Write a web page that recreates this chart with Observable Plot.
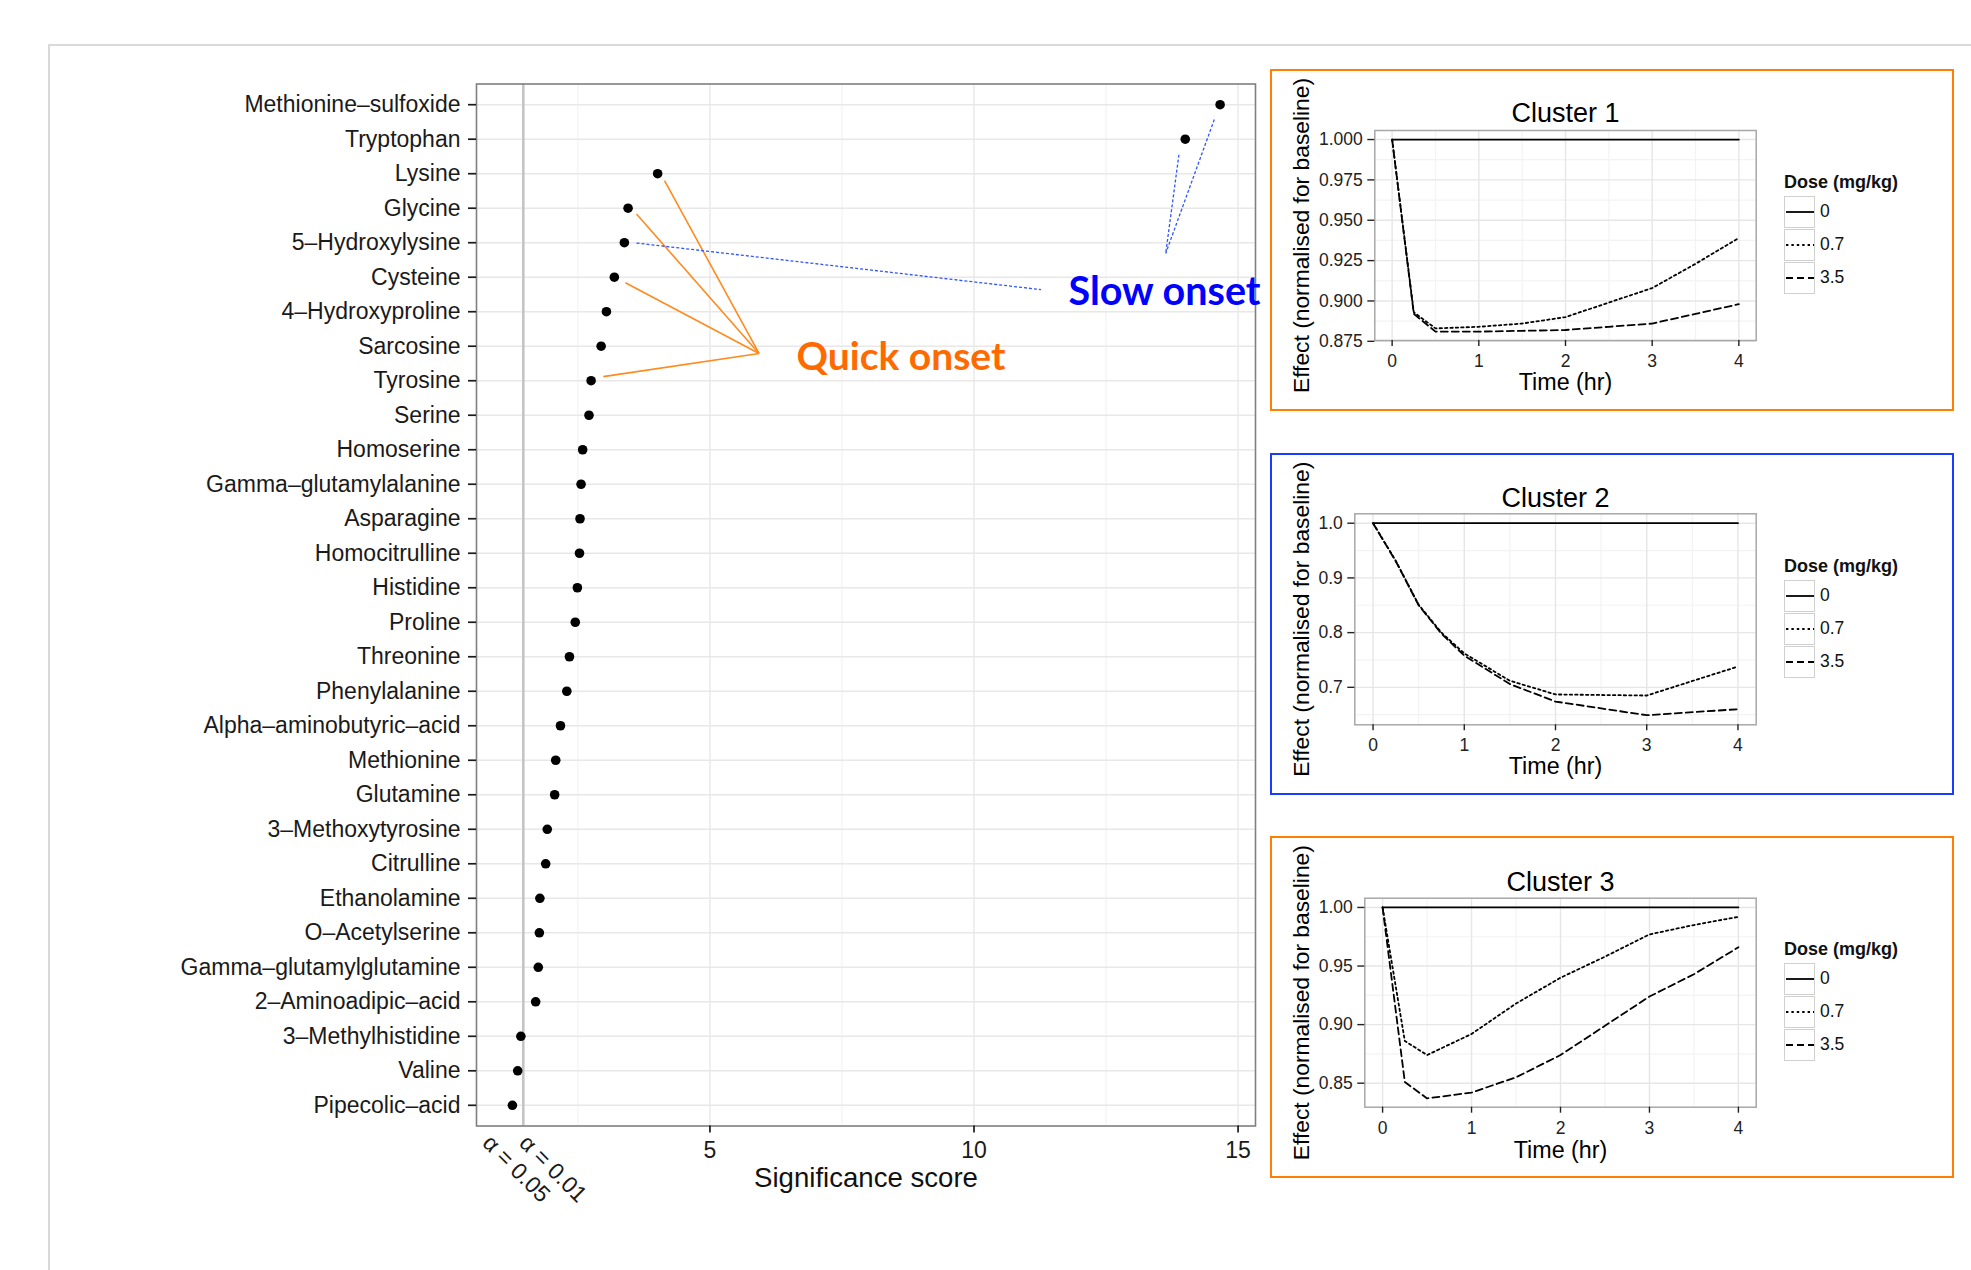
<!DOCTYPE html>
<html><head><meta charset="utf-8">
<script src="https://cdn.jsdelivr.net/npm/d3@7"></script>
<script src="https://cdn.jsdelivr.net/npm/@observablehq/plot@0.6"></script>
<style>
html,body{margin:0;padding:0;background:#fff;}
body{width:1971px;height:1270px;overflow:hidden;position:relative;font-family:"Liberation Sans",Arial,sans-serif;}
.pageframe{position:absolute;left:48px;top:44px;right:-4px;bottom:-4px;border-top:2px solid #d9d9d9;border-left:2px solid #d9d9d9;}
.abs{position:absolute;}
.box{position:absolute;left:1270px;width:684px;height:342px;box-sizing:border-box;border:2.5px solid #ff8000;pointer-events:none;}
.legend{position:absolute;left:514px;top:101px;font-family:"Liberation Sans",Arial,sans-serif;color:#111;}
.legend .lt{font-weight:bold;font-size:18px;height:25px;line-height:25px;white-space:nowrap;}
.legend .row{display:flex;align-items:center;height:33px;}
.legend .key{width:31px;height:32px;box-sizing:border-box;border:1.2px solid #d0d0d0;background:#fff;display:flex;align-items:center;justify-content:center;}
.legend .lab{font-size:17.5px;margin-left:5px;}
</style></head>
<body>
<div class="pageframe"></div>
<div id="main" class="abs" style="left:0;top:0"></div>
<div id="c1" class="abs" style="left:1270px;top:69px"></div>
<div id="c2" class="abs" style="left:1270px;top:453px"></div>
<div id="c3" class="abs" style="left:1270px;top:836px"></div>
<div class="box" style="top:69px"></div>
<div class="box" style="top:453px;border-color:#1a3cff"></div>
<div class="box" style="top:836px"></div>
<script>
// ---------- Main dot chart data ----------
const metabolites = ["Methionine–sulfoxide","Tryptophan","Lysine","Glycine","5–Hydroxylysine","Cysteine","4–Hydroxyproline","Sarcosine","Tyrosine","Serine","Homoserine","Gamma–glutamylalanine","Asparagine","Homocitrulline","Histidine","Proline","Threonine","Phenylalanine","Alpha–aminobutyric–acid","Methionine","Glutamine","3–Methoxytyrosine","Citrulline","Ethanolamine","O–Acetylserine","Gamma–glutamylglutamine","2–Aminoadipic–acid","3–Methylhistidine","Valine","Pipecolic–acid"];
const scores = [14.66,14.00,4.01,3.45,3.38,3.19,3.04,2.94,2.75,2.71,2.59,2.56,2.54,2.53,2.49,2.45,2.34,2.29,2.17,2.08,2.06,1.92,1.89,1.78,1.77,1.75,1.70,1.42,1.36,1.26];
const xMajorTicks = [5, 10, 15];
const xMinorTicks = [2.5, 7.5, 12.5];
const alphaTicks = [0.767, 1.466];
const alphaLabels = ["α = 0.05", "α = 0.01"];
// annotation callouts (data coordinates: score, row index)
const quickFromX = [4.14, 3.61, 3.40, 2.98];
const quickFromY = [2.20, 3.17, 5.16, 7.88];
const quickToX = 5.93, quickToY = 7.21;
const slowFromX = [3.61, 13.88, 14.55];
const slowFromY = [4.01, 1.45, 0.43];
const slowToX = [11.27, 13.63, 13.63];
const slowToY = [5.36, 4.31, 4.31];
const annotations = ["Quick onset", "Slow onset"];
const annotX = [6.64, 11.79];
const annotY = [7.33, 5.44];

// ---------- Cluster panels data ----------
const doses = ["0", "0.7", "3.5"];
const c1Time = [0, 0.25, 0.5, 1, 1.5, 2, 2.5, 3, 3.5, 4];
const c1Dose0 = [1, 1, 1, 1, 1, 1, 1, 1, 1, 1];
const c1Dose07 = [1.0, 0.893, 0.883, 0.884, 0.886, 0.890, 0.899, 0.908, 0.923, 0.939];
const c1Dose35 = [1.0, 0.892, 0.881, 0.881, 0.8815, 0.882, 0.884, 0.886, 0.892, 0.898];
const c2Time = [0, 0.25, 0.5, 0.75, 1, 1.5, 2, 3, 4];
const c2Dose0 = [1, 1, 1, 1, 1, 1, 1, 1, 1];
const c2Dose07 = [1.0, 0.931, 0.851, 0.800, 0.762, 0.712, 0.687, 0.685, 0.738];
const c2Dose35 = [1.0, 0.930, 0.850, 0.798, 0.758, 0.706, 0.674, 0.649, 0.660];
const c3Time = [0, 0.25, 0.5, 1, 1.5, 2, 2.5, 3, 3.5, 4];
const c3Dose0 = [1, 1, 1, 1, 1, 1, 1, 1, 1, 1];
const c3Dose07 = [1.0, 0.886, 0.874, 0.892, 0.918, 0.940, 0.958, 0.977, 0.985, 0.992];
const c3Dose35 = [1.0, 0.851, 0.837, 0.842, 0.855, 0.874, 0.899, 0.924, 0.943, 0.966];
const c1YTicks = [0.875, 0.9, 0.925, 0.95, 0.975, 1.0];
const c2YTicks = [0.7, 0.8, 0.9, 1.0];
const c3YTicks = [0.85, 0.9, 0.95, 1.0];
const timeTicks = [0, 1, 2, 3, 4];
const timeMinor = [0.5, 1.5, 2.5, 3.5];

const FONT = "'Liberation Sans', Arial, Helvetica, sans-serif";
const rows = d3.range(metabolites.length);

const main = Plot.plot({
  width: 1265, height: 1240,
  marginLeft: 476, marginRight: 10, marginTop: 83.5, marginBottom: 114.5,
  x: {domain: [0.58, 15.33]},
  y: {domain: [29.6, -0.6]},
  style: {fontFamily: FONT, background: "transparent", overflow: "visible"},
  marks: [
    Plot.gridX({ticks: xMinorTicks, stroke: "#f3f3f3", strokeOpacity: 1, strokeWidth: 1.2}),
    Plot.gridX({ticks: xMajorTicks, stroke: "#e8e8e8", strokeOpacity: 1, strokeWidth: 1.4}),
    Plot.gridY({ticks: rows, stroke: "#e8e8e8", strokeOpacity: 1, strokeWidth: 1.4}),
    Plot.ruleX([alphaTicks[1]], {stroke: "#c4c4c4", strokeWidth: 2.6}),
    Plot.frame({stroke: "#7f7f7f", strokeWidth: 1.6}),
    Plot.link(quickFromX, {x1: d => d, y1: (d, i) => quickFromY[i], x2: () => quickToX, y2: () => quickToY, stroke: "#ff8a1e", strokeWidth: 1.6}),
    Plot.link(slowFromX, {x1: d => d, y1: (d, i) => slowFromY[i], x2: (d, i) => slowToX[i], y2: (d, i) => slowToY[i], stroke: "#2f55ff", strokeWidth: 1.3, strokeDasharray: "3,2"}),
    Plot.dot(scores, {x: d => d, y: (d, i) => i, r: 4.8, fill: "#000", stroke: "none"}),
    Plot.text(annotations, {x: (d, i) => annotX[i], y: (d, i) => annotY[i], text: d => d, textAnchor: "start", lineAnchor: "middle", fontFamily: "Lato, 'Open Sans', sans-serif", fontWeight: "bold", fontSize: (d, i) => i === 0 ? 39 : 39.5, fill: (d, i) => i === 0 ? "#ff6a00" : "#0000ff"}),
    Plot.axisY({ticks: rows, tickFormat: i => metabolites[i], tickSize: 8, tickPadding: 8, fontSize: 23, label: null, color: "#1a1a1a", strokeWidth: 1.7}),
    Plot.axisX({ticks: xMajorTicks, tickSize: 7, tickPadding: 9, fontSize: 23, label: null, color: "#1a1a1a", strokeWidth: 1.7}),
    Plot.text(alphaTicks, {x: d => d, text: (d, i) => alphaLabels[i], frameAnchor: "bottom", dy: 13, rotate: 45, textAnchor: "start", lineAnchor: "middle", fontSize: 23, fill: "#1a1a1a"}),
    Plot.text(["Significance score"], {frameAnchor: "bottom", dy: 52.5, lineAnchor: "middle", fontSize: 27.6, fill: "#111"})
  ]
});
document.getElementById("main").appendChild(main);

function clusterPlot(cfg) {
  const W = 684, H = 342;
  const lineMarks = [
    [cfg.d0, null],
    [cfg.d07, "2.4,3"],
    [cfg.d35, "7,4"]
  ].map(([vals, dash]) => Plot.line(cfg.time, {x: d => d, y: (d, i) => vals[i], stroke: "#000", strokeWidth: 1.8, strokeDasharray: dash || undefined}));
  return Plot.plot({
    width: W, height: H,
    marginLeft: cfg.left, marginRight: W - (1755.7 - 1270), marginTop: cfg.top, marginBottom: cfg.bottom,
    x: {domain: [-0.2, 4.2]},
    y: {domain: cfg.ydomain},
    style: {fontFamily: FONT, background: "transparent", overflow: "visible"},
    marks: [
      Plot.gridX({ticks: timeMinor, stroke: "#f3f3f3", strokeOpacity: 1, strokeWidth: 1.2}),
      Plot.gridY({ticks: cfg.yminor, stroke: "#f3f3f3", strokeOpacity: 1, strokeWidth: 1.2}),
      Plot.gridX({ticks: timeTicks, stroke: "#e6e6e6", strokeOpacity: 1, strokeWidth: 1.4}),
      Plot.gridY({ticks: cfg.yticks, stroke: "#e6e6e6", strokeOpacity: 1, strokeWidth: 1.4}),
      Plot.frame({stroke: "#a8a8a8", strokeWidth: 1.5}),
      ...lineMarks,
      Plot.axisX({ticks: timeTicks, tickFormat: d => String(d), tickSize: 6, tickPadding: 8, fontSize: 17.5, label: null, color: "#222", strokeWidth: 1.4}),
      Plot.axisY({ticks: cfg.yticks, tickFormat: d3.format(cfg.fmt), tickSize: 7, tickPadding: 5, fontSize: 17.5, label: null, color: "#222", strokeWidth: 1.4}),
      Plot.text([cfg.title], {frameAnchor: "top", dy: -cfg.titleDy, lineAnchor: "middle", fontSize: 27, fill: "#000"}),
      Plot.text(["Time (hr)"], {frameAnchor: "bottom", dy: cfg.xlabDy, lineAnchor: "middle", fontSize: 23.3, fill: "#000"}),
      Plot.text(["Effect (normalised for baseline)"], {frameAnchor: "left", dx: -cfg.ylabDx, rotate: -90, lineAnchor: "middle", textAnchor: "middle", fontSize: 22.8, fill: "#000"})
    ]
  });
}

function legend() {
  const dashes = [null, "2.4,3", "7,4"];
  const div = document.createElement("div");
  div.className = "legend";
  let html = `<div class="lt">Dose (mg/kg)</div>`;
  doses.forEach((d, i) => {
    html += `<div class="row"><div class="key"><svg width="28" height="10"><line x1="0" x2="28" y1="5" y2="5" stroke="#000" stroke-width="1.8" ${dashes[i] ? `stroke-dasharray="${dashes[i]}"` : ""}/></svg></div><span class="lab">${d}</span></div>`;
  });
  div.innerHTML = html;
  return div;
}

const cfgs = [
  {id: "c1", title: "Cluster 1", time: c1Time, d0: c1Dose0, d07: c1Dose07, d35: c1Dose35, yticks: c1YTicks, yminor: [0.8875, 0.9125, 0.9375, 0.9625, 0.9875], fmt: ".3f", ydomain: [0.8755, 1.0056], left: 104.3, top: 61, bottom: 71, titleDy: 16.7, xlabDy: 41.7, ylabDx: 73.5},
  {id: "c2", title: "Cluster 2", time: c2Time, d0: c2Dose0, d07: c2Dose07, d35: c2Dose35, yticks: c2YTicks, yminor: [0.65, 0.75, 0.85, 0.95], fmt: ".1f", ydomain: [0.6315, 1.0172], left: 84.3, top: 60.3, bottom: 70.7, titleDy: 15.3, xlabDy: 41.7, ylabDx: 53.3},
  {id: "c3", title: "Cluster 3", time: c3Time, d0: c3Dose0, d07: c3Dose07, d35: c3Dose35, yticks: c3YTicks, yminor: [0.875, 0.925, 0.975], fmt: ".2f", ydomain: [0.8295, 1.0079], left: 94.3, top: 61.7, bottom: 71.3, titleDy: 16, xlabDy: 43.3, ylabDx: 63.3}
];
cfgs.forEach(cfg => {
  const host = document.getElementById(cfg.id);
  host.appendChild(clusterPlot(cfg));
  host.appendChild(legend());
});
</script>
</body></html>
